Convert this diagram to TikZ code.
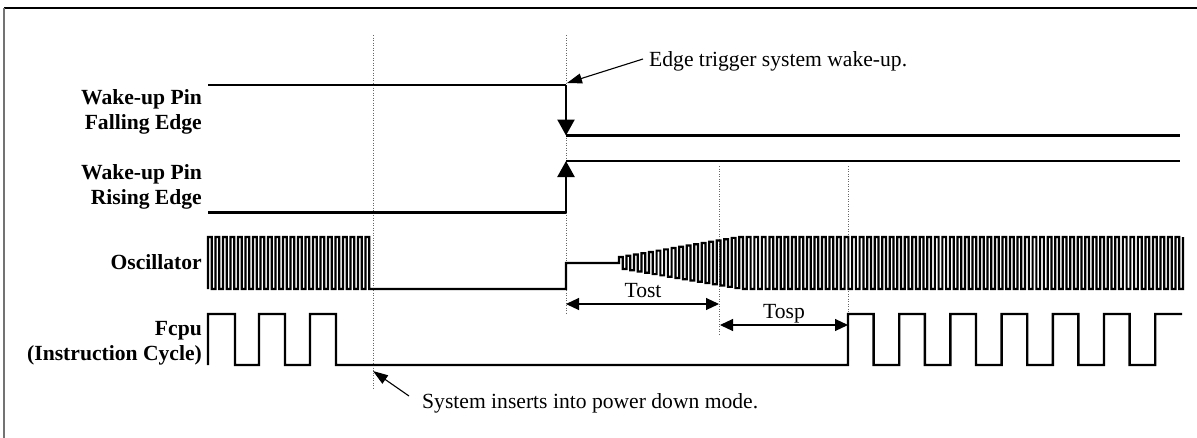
\documentclass[tikz,border=0pt]{standalone}
\usepackage{fontspec}
\setmainfont{Liberation Serif}
\usetikzlibrary{arrows.meta}
\begin{document}
\begin{tikzpicture}[x=1pt,y=-1pt,
 sig/.style={line width=2.4pt, line join=miter},
 osc/.style={line width=2.2pt},
 guide/.style={black!60, line width=0.8pt, dash pattern=on 1pt off 1.5pt},
 dim/.style={line width=1.1pt, {Triangle[length=13pt,width=12pt]}-{Triangle[length=13pt,width=12pt]}},
 callout/.style={line width=1.1pt, -{Triangle[length=15pt,width=10pt]}},
 edgearrow/.style={line width=2.4pt, -{Triangle[length=16pt,width=17pt]}},
 lbl/.style={font=\fontsize{21.6}{25}\selectfont\bfseries, anchor=base east, inner sep=0},
 txt/.style={font=\fontsize{21.6}{25}\selectfont, inner sep=0, anchor=base west},
 dimtxt/.style={font=\fontsize{21.6}{25}\selectfont, inner sep=0, anchor=base}]
\useasboundingbox (0,0) rectangle (1197,437);
% frame
\draw[line width=1.6pt] (4,8) -- (1200,8);
\draw[black!55, line width=2pt] (4,8) -- (4,440);
% guides
\draw[guide] (373,35) -- (373,388);
\draw[guide] (566,35) -- (566,313);
\draw[guide] (719,166) -- (719,335);
\draw[guide] (848,166) -- (848,313);
% labels
\node[lbl] (l1a) at (202,104) {Wake-up Pin};
\node[lbl] (l1b) at (202,129) {Falling Edge};
\node[lbl] (l2a) at (202,179) {Wake-up Pin};
\node[lbl] (l2b) at (202,204) {Rising Edge};
\node[lbl] (l3) at (202,269) {Oscillator};
\node[lbl] (l4a) at (202,335) {Fcpu};
\node[lbl] (l4b) at (202,360) {(Instruction Cycle)};
% falling edge
\coordinate (fh) at (566,85);
\coordinate (fl) at (566,135.5);
\draw[sig] (208,85) -- (fh);
\draw[edgearrow] (fh) -- (fl);
\draw[sig] (fl) -- (1180,135.5);
% rising edge
\coordinate (rl) at (566,212.5);
\coordinate (rh) at (566,161);
\draw[sig] (208,212.5) -- (rl);
\draw[edgearrow] (rl) -- (rh);
\draw[sig] (rh) -- (1180,161);
% oscillator
\draw[osc] (208,289)
  \foreach \k [evaluate=\k as \xx using 208+\k*7.5] in {0,...,21}
   { -- (\xx,237) -- (\xx+3.75,237) -- (\xx+3.75,289) -- (\xx+7.5,289)}
  -- (566,289) -- (566,263) -- (619,263)
  \foreach \k [evaluate=\k as \xx using 619+\k*7.52, evaluate=\k as \a using {min(26,6+20*\k*7.52/118)}] in {0,...,74}
   { -- (\xx,263-\a) -- (\xx+3.76,263-\a) -- (\xx+3.76,263+\a) -- (\xx+7.52,263+\a)}
  -- (1183,237);
% Fcpu
\draw[sig] (208,365) -- (208,314) -- (235,314) -- (235,365) -- (259,365) -- (259,314)
  -- (285,314) -- (285,365) -- (310,365) -- (310,314) -- (336,314) -- (336,365) -- (848,365)
  \foreach \k [evaluate=\k as \xx using 848+\k*51.2] in {0,...,5}
   { -- (\xx,314) -- (\xx+25.6,314) -- (\xx+25.6,365) -- (\xx+51.2,365)}
  -- (1155.2,314) -- (1182,314);
% dimensions
\coordinate (t1) at (566,304);
\coordinate (t2) at (719,304);
\draw[dim] (t1) -- (t2);
\node[dimtxt] (tost) at (643,297.5) {Tost};
\coordinate (p1) at (720,325);
\coordinate (p2) at (848,325);
\draw[dim] (p1) -- (p2);
\node[dimtxt] (tosp) at (784,318) {Tosp};
% callouts
\node[txt] (edge) at (649,66) {Edge trigger system wake-up.};
\coordinate (et) at (567,83);
\draw[callout] (643,59) -- (et);
\node[txt] (sys) at (422,408) {System inserts into power down mode.};
\coordinate (st) at (373,371);
\draw[callout] (409,396) -- (st);
\end{tikzpicture}
\end{document}
